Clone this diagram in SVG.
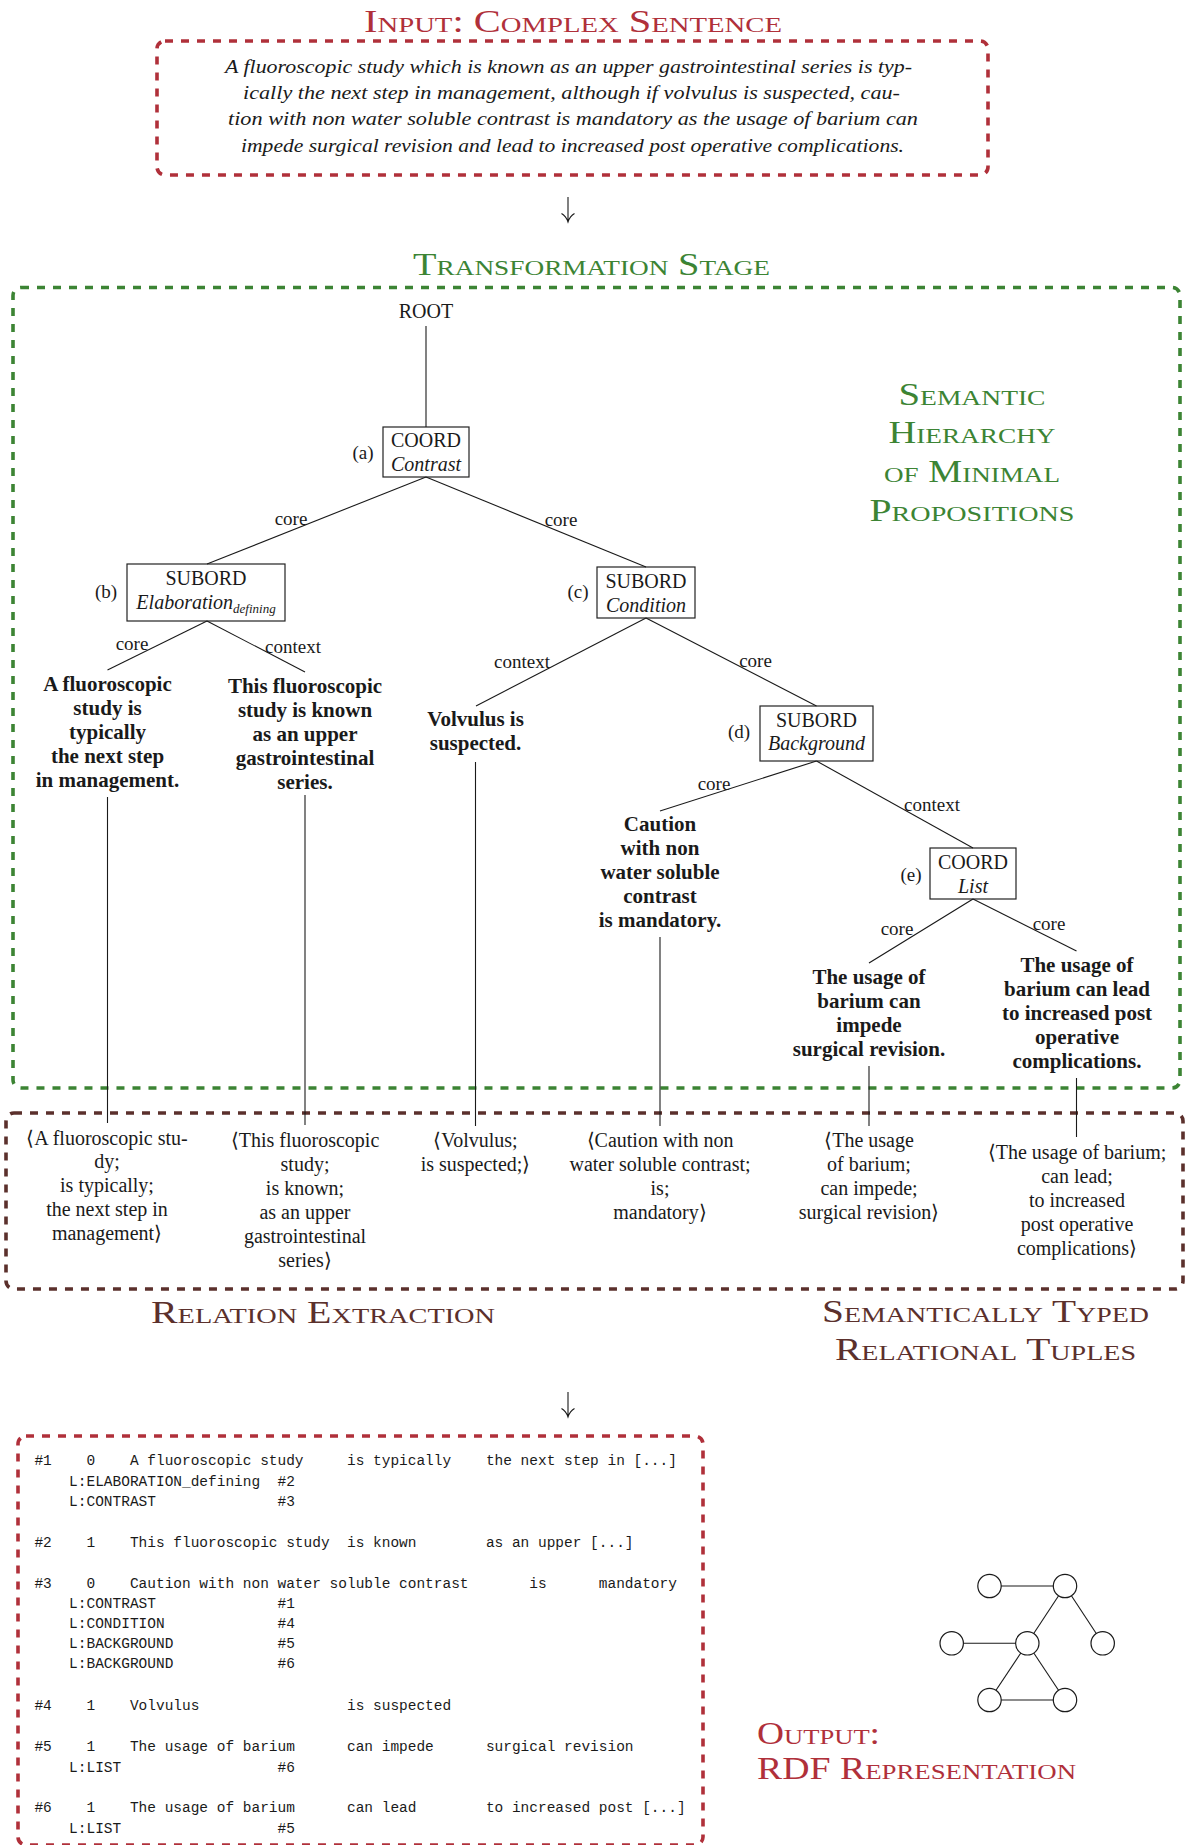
<svg xmlns="http://www.w3.org/2000/svg" width="1185" height="1845" viewBox="0 0 1185 1845">
<style>
text { font-family: "Liberation Serif", serif; fill: #1a1a1a; }
.sc { font-variant: small-caps; font-size: 31px; }
.red { fill: #b0303a; }
.grn { fill: #3c8434; }
.brn { fill: #5b302c; }
.it { font-style: italic; }
.in { font-style: italic; font-size: 19px; }
.nd { font-size: 20px; text-anchor: middle; }
.lb { font-size: 19px; text-anchor: middle; }
.lf { font-size: 21px; font-weight: bold; text-anchor: middle; }
.tp { font-size: 20px; text-anchor: middle; }
.mono { font-family: "Liberation Mono", monospace; font-size: 14.47px; white-space: pre; }
.box { fill: #fff; stroke: #222; stroke-width: 1.2; }
.dash { fill: none; stroke-width: 3.6; stroke-dasharray: 8 8; }
.edge { stroke: #1a1a1a; stroke-width: 1.1; fill: none; }
.rdf { fill: #fff; stroke: #1a1a1a; stroke-width: 1.2; }
</style>

<!-- frames -->
<g id="frames">
  <rect id="input-frame" class="dash" x="157" y="41" width="831" height="134" rx="8" stroke="#b0303a"/>
  <rect id="transform-frame" class="dash" x="13" y="287.5" width="1167" height="800.5" rx="8" stroke="#3c8434"/>
  <rect id="tuple-frame" class="dash" x="6" y="1113" width="1177" height="176" rx="8" stroke="#5b302c"/>
  <rect id="output-frame" class="dash" x="18" y="1436" width="685" height="409" rx="8" stroke="#b0303a"/>
</g>

<!-- titles -->
<g id="titles">
  <text class="sc red" x="573" y="32" text-anchor="middle" textLength="418" lengthAdjust="spacingAndGlyphs">Input: Complex Sentence</text>
  <text class="sc grn" x="591.5" y="275" text-anchor="middle" textLength="357" lengthAdjust="spacingAndGlyphs">Transformation Stage</text>
  <text class="sc grn" x="972" y="405" text-anchor="middle" textLength="147" lengthAdjust="spacingAndGlyphs">Semantic</text>
  <text class="sc grn" x="972" y="443" text-anchor="middle" textLength="167" lengthAdjust="spacingAndGlyphs">Hierarchy</text>
  <text class="sc grn" x="972" y="482" text-anchor="middle" textLength="176" lengthAdjust="spacingAndGlyphs">of Minimal</text>
  <text class="sc grn" x="972" y="521" text-anchor="middle" textLength="205" lengthAdjust="spacingAndGlyphs">Propositions</text>
  <text class="sc brn" x="323" y="1323" text-anchor="middle" textLength="344" lengthAdjust="spacingAndGlyphs">Relation Extraction</text>
  <text class="sc brn" x="985.5" y="1322" text-anchor="middle" textLength="327" lengthAdjust="spacingAndGlyphs">Semantically Typed</text>
  <text class="sc brn" x="985.5" y="1360" text-anchor="middle" textLength="301" lengthAdjust="spacingAndGlyphs">Relational Tuples</text>
  <text class="sc red" x="757" y="1744" textLength="123" lengthAdjust="spacingAndGlyphs">Output:</text>
  <text class="sc red" x="757" y="1779" textLength="319" lengthAdjust="spacingAndGlyphs">RDF Representation</text>
</g>

<!-- input sentence -->
<g id="input-sentence">
  <text class="in" x="225" y="73" textLength="687" lengthAdjust="spacingAndGlyphs">A fluoroscopic study which is known as an upper gastrointestinal series is typ-</text>
  <text class="in" x="243" y="99" textLength="657" lengthAdjust="spacingAndGlyphs">ically the next step in management, although if volvulus is suspected, cau-</text>
  <text class="in" x="228" y="125" textLength="690" lengthAdjust="spacingAndGlyphs">tion with non water soluble contrast is mandatory as the usage of barium can</text>
  <text class="in" x="241" y="152" textLength="663" lengthAdjust="spacingAndGlyphs">impede surgical revision and lead to increased post operative complications.</text>
</g>

<!-- tree nodes -->
<g id="root"><text class="nd" x="426" y="318">ROOT</text></g>
<g id="node-a">
  <rect class="box" x="383" y="427" width="86" height="50"/>
  <text class="nd" x="426" y="447">COORD</text>
  <text class="nd it" x="426" y="471">Contrast</text>
  <text class="lb" x="363" y="459">(a)</text>
</g>
<g id="node-b">
  <rect class="box" x="127" y="564" width="158" height="57"/>
  <text class="nd" x="206" y="585">SUBORD</text>
  <text class="nd it" x="206" y="609">Elaboration<tspan font-size="13" dy="4">defining</tspan></text>
  <text class="lb" x="106" y="598">(b)</text>
</g>
<g id="node-c">
  <rect class="box" x="597" y="567" width="98" height="51"/>
  <text class="nd" x="646" y="588">SUBORD</text>
  <text class="nd it" x="646" y="612">Condition</text>
  <text class="lb" x="578" y="598">(c)</text>
</g>
<g id="node-d">
  <rect class="box" x="760" y="706" width="113" height="55"/>
  <text class="nd" x="816.5" y="727">SUBORD</text>
  <text class="nd it" x="816.5" y="750">Background</text>
  <text class="lb" x="739" y="738">(d)</text>
</g>
<g id="node-e">
  <rect class="box" x="930" y="848" width="86" height="51"/>
  <text class="nd" x="973" y="869">COORD</text>
  <text class="nd it" x="973" y="893">List</text>
  <text class="lb" x="911" y="881">(e)</text>
</g>

<!-- leaves -->
<g id="leaf-1">
  <text class="lf" x="107.5" y="691">A fluoroscopic</text>
  <text class="lf" x="107.5" y="715">study is</text>
  <text class="lf" x="107.5" y="739">typically</text>
  <text class="lf" x="107.5" y="763">the next step</text>
  <text class="lf" x="107.5" y="787">in management.</text>
</g>
<g id="leaf-2">
  <text class="lf" x="305" y="693">This fluoroscopic</text>
  <text class="lf" x="305" y="717">study is known</text>
  <text class="lf" x="305" y="741">as an upper</text>
  <text class="lf" x="305" y="765">gastrointestinal</text>
  <text class="lf" x="305" y="789">series.</text>
</g>
<g id="leaf-3">
  <text class="lf" x="475.5" y="726">Volvulus is</text>
  <text class="lf" x="475.5" y="750">suspected.</text>
</g>
<g id="leaf-4">
  <text class="lf" x="660" y="831">Caution</text>
  <text class="lf" x="660" y="855">with non</text>
  <text class="lf" x="660" y="879">water soluble</text>
  <text class="lf" x="660" y="903">contrast</text>
  <text class="lf" x="660" y="927">is mandatory.</text>
</g>
<g id="leaf-5">
  <text class="lf" x="869" y="984">The usage of</text>
  <text class="lf" x="869" y="1008">barium can</text>
  <text class="lf" x="869" y="1032">impede</text>
  <text class="lf" x="869" y="1056">surgical revision.</text>
</g>
<g id="leaf-6">
  <text class="lf" x="1077" y="972">The usage of</text>
  <text class="lf" x="1077" y="996">barium can lead</text>
  <text class="lf" x="1077" y="1020">to increased post</text>
  <text class="lf" x="1077" y="1044">operative</text>
  <text class="lf" x="1077" y="1068">complications.</text>
</g>

<!-- tuples -->
<g id="tuple-1">
  <text class="tp" x="107" y="1145">⟨A fluoroscopic stu-</text>
  <text class="tp" x="107" y="1168">dy;</text>
  <text class="tp" x="107" y="1192">is typically;</text>
  <text class="tp" x="107" y="1216">the next step in</text>
  <text class="tp" x="107" y="1240">management⟩</text>
</g>
<g id="tuple-2">
  <text class="tp" x="305" y="1147">⟨This fluoroscopic</text>
  <text class="tp" x="305" y="1171">study;</text>
  <text class="tp" x="305" y="1195">is known;</text>
  <text class="tp" x="305" y="1219">as an upper</text>
  <text class="tp" x="305" y="1243">gastrointestinal</text>
  <text class="tp" x="305" y="1267">series⟩</text>
</g>
<g id="tuple-3">
  <text class="tp" x="475.5" y="1147">⟨Volvulus;</text>
  <text class="tp" x="475.5" y="1171">is suspected;⟩</text>
</g>
<g id="tuple-4">
  <text class="tp" x="660" y="1147">⟨Caution with non</text>
  <text class="tp" x="660" y="1171">water soluble contrast;</text>
  <text class="tp" x="660" y="1195">is;</text>
  <text class="tp" x="660" y="1219">mandatory⟩</text>
</g>
<g id="tuple-5">
  <text class="tp" x="869" y="1147">⟨The usage</text>
  <text class="tp" x="869" y="1171">of barium;</text>
  <text class="tp" x="869" y="1195">can impede;</text>
  <text class="tp" x="869" y="1219">surgical revision⟩</text>
</g>
<g id="tuple-6">
  <text class="tp" x="1077" y="1159">⟨The usage of barium;</text>
  <text class="tp" x="1077" y="1183">can lead;</text>
  <text class="tp" x="1077" y="1207">to increased</text>
  <text class="tp" x="1077" y="1231">post operative</text>
  <text class="tp" x="1077" y="1255">complications⟩</text>
</g>

<!-- output listing -->
<g id="output-listing">
  <text class="mono" x="34.4" y="1465">#1    0    A fluoroscopic study     is typically    the next step in [...]</text>
  <text class="mono" x="34.4" y="1486">    L:ELABORATION_defining  #2</text>
  <text class="mono" x="34.4" y="1506">    L:CONTRAST              #3</text>
  <text class="mono" x="34.4" y="1547">#2    1    This fluoroscopic study  is known        as an upper [...]</text>
  <text class="mono" x="34.4" y="1588">#3    0    Caution with non water soluble contrast       is      mandatory</text>
  <text class="mono" x="34.4" y="1608">    L:CONTRAST              #1</text>
  <text class="mono" x="34.4" y="1628">    L:CONDITION             #4</text>
  <text class="mono" x="34.4" y="1648">    L:BACKGROUND            #5</text>
  <text class="mono" x="34.4" y="1668">    L:BACKGROUND            #6</text>
  <text class="mono" x="34.4" y="1710">#4    1    Volvulus                 is suspected</text>
  <text class="mono" x="34.4" y="1751">#5    1    The usage of barium      can impede      surgical revision</text>
  <text class="mono" x="34.4" y="1772">    L:LIST                  #6</text>
  <text class="mono" x="34.4" y="1812">#6    1    The usage of barium      can lead        to increased post [...]</text>
  <text class="mono" x="34.4" y="1833">    L:LIST                  #5</text>
</g>

<!-- connectors -->
<g id="connectors">
  <line class="edge" x1="426" y1="326" x2="426" y2="427"/>
  <line class="edge" x1="426" y1="477" x2="207" y2="564"/>
  <line class="edge" x1="426" y1="477" x2="646" y2="567"/>
  <line class="edge" x1="207" y1="621" x2="107.5" y2="670"/>
  <line class="edge" x1="207" y1="621" x2="305" y2="672"/>
  <line class="edge" x1="646" y1="618" x2="476" y2="706"/>
  <line class="edge" x1="646" y1="618" x2="816.5" y2="706"/>
  <line class="edge" x1="816.5" y1="761" x2="660" y2="811"/>
  <line class="edge" x1="816.5" y1="761" x2="973" y2="848"/>
  <line class="edge" x1="973" y1="899" x2="869" y2="963"/>
  <line class="edge" x1="973" y1="899" x2="1076.5" y2="951"/>
  <line class="edge" x1="107.5" y1="797" x2="107.5" y2="1123"/>
  <line class="edge" x1="305" y1="795" x2="305" y2="1125"/>
  <line class="edge" x1="475.5" y1="762" x2="475.5" y2="1126"/>
  <line class="edge" x1="660" y1="937" x2="660" y2="1126"/>
  <line class="edge" x1="869" y1="1066" x2="869" y2="1126"/>
  <line class="edge" x1="1076.5" y1="1078" x2="1076.5" y2="1137"/>
  <!-- stage arrows -->
  <path class="edge" d="M568 197 V221 M561.5 213.5 Q566 216 568 222 Q570 216 574.5 213.5"/>
  <path class="edge" d="M568 1392 V1416 M561.5 1408.5 Q566 1411 568 1417 Q570 1411 574.5 1408.5"/>
</g>

<!-- edge labels -->
<g id="edge-labels">
  <text class="lb" x="291" y="525">core</text>
  <text class="lb" x="561" y="526">core</text>
  <text class="lb" x="132" y="650">core</text>
  <text class="lb" x="293" y="653">context</text>
  <text class="lb" x="522" y="668">context</text>
  <text class="lb" x="755.5" y="667">core</text>
  <text class="lb" x="714" y="790">core</text>
  <text class="lb" x="932" y="811">context</text>
  <text class="lb" x="897" y="935">core</text>
  <text class="lb" x="1049" y="930">core</text>
</g>

<!-- RDF graph icon -->
<g id="rdf-graph">
  <g class="edge">
    <line x1="989.5" y1="1586" x2="1065" y2="1586"/>
    <line x1="1065" y1="1586" x2="1027.3" y2="1643.3"/>
    <line x1="1065" y1="1586" x2="1102.7" y2="1643.3"/>
    <line x1="951.7" y1="1643.3" x2="1027.3" y2="1643.3"/>
    <line x1="1027.3" y1="1643.3" x2="989.5" y2="1700"/>
    <line x1="1027.3" y1="1643.3" x2="1065" y2="1700"/>
    <line x1="989.5" y1="1700" x2="1065" y2="1700"/>
  </g>
  <circle class="rdf" cx="989.5" cy="1586" r="11.7"/>
  <circle class="rdf" cx="1065" cy="1586" r="11.7"/>
  <circle class="rdf" cx="951.7" cy="1643.3" r="11.7"/>
  <circle class="rdf" cx="1027.3" cy="1643.3" r="11.7"/>
  <circle class="rdf" cx="1102.7" cy="1643.3" r="11.7"/>
  <circle class="rdf" cx="989.5" cy="1700" r="11.7"/>
  <circle class="rdf" cx="1065" cy="1700" r="11.7"/>
</g>
</svg>
